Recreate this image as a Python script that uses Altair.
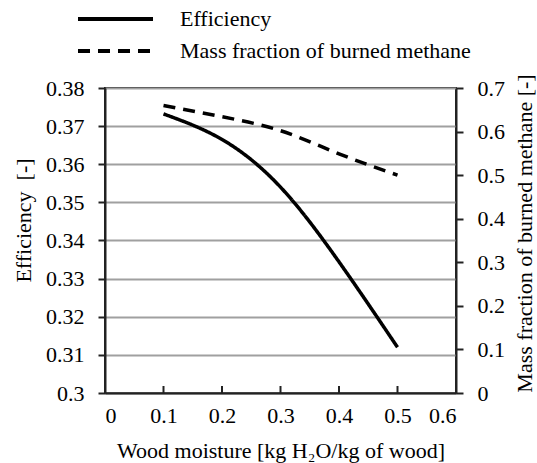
import altair as alt
import pandas as pd

moisture = [0.1, 0.2, 0.3, 0.4, 0.5]
efficiency = [0.3732, 0.3665, 0.3540, 0.3344, 0.3120]
methane = [0.660, 0.634, 0.602, 0.549, 0.500]
x_ticks = [0, 0.1, 0.2, 0.3, 0.4, 0.5, 0.6]
left_ticks = [0.30, 0.31, 0.32, 0.33, 0.34, 0.35, 0.36, 0.37, 0.38]
right_ticks = [0, 0.1, 0.2, 0.3, 0.4, 0.5, 0.6, 0.7]
series = ["Efficiency", "Mass fraction of burned methane"]

FONT = "Liberation Serif, Times New Roman, serif"
W, H = 351, 305

df_eff = pd.DataFrame({"x": moisture, "y": efficiency, "series": series[0]})
df_met = pd.DataFrame({"x": moisture, "y": methane, "series": series[1]})
df_ticks = pd.DataFrame({"x": x_ticks})

xscale = alt.Scale(domain=[0, 0.6], nice=False)
xaxis = alt.Axis(values=x_ticks, format=".1~f", tickSize=0, labelPadding=12,
                 title="Wood moisture [kg H\u2082O/kg of wood]", titlePadding=14,
                 grid=False, domainColor="#222", domainWidth=2,
                 labelFont=FONT, labelFontSize=22, titleFont=FONT, titleFontSize=22,
                 labelColor="black", titleColor="black", titleFontWeight="normal")

dash = alt.StrokeDash("series:N",
                      scale=alt.Scale(domain=series, range=[[1, 0], [12, 8]]),
                      legend=alt.Legend(title=None, orient="none", legendX=-0.5, legendY=-80,
                                        symbolType="M-5,0H5", symbolSize=225, symbolStrokeWidth=4,
                                        symbolStrokeColor="black", labelFont=FONT, labelFontSize=22,
                                        labelColor="black", labelOffset=53.5, labelLimit=500,
                                        rowPadding=10))

eff = alt.Chart(df_eff).mark_line(color="black", strokeWidth=3.5, interpolate="natural").encode(
    x=alt.X("x:Q", scale=xscale, axis=xaxis),
    y=alt.Y("y:Q", scale=alt.Scale(domain=[0.3, 0.38], nice=False, zero=False),
            axis=alt.Axis(values=left_ticks, format=".2~f", tickSize=7, tickColor="#222", tickWidth=2,
                          labelPadding=14, title="Efficiency\u00a0\u00a0[-]", titlePadding=10,
                          titleY=132,
                          grid=True, gridColor="#a0a0a0", gridWidth=2,
                          domainColor="#222", domainWidth=2,
                          labelFont=FONT, labelFontSize=22, titleFont=FONT, titleFontSize=22,
                          labelColor="black", titleColor="black", titleFontWeight="normal")),
    strokeDash=dash,
)

met = alt.Chart(df_met).mark_line(color="black", strokeWidth=3.5, interpolate="natural").encode(
    x=alt.X("x:Q", scale=xscale),
    y=alt.Y("y:Q", scale=alt.Scale(domain=[0, 0.7], nice=False),
            axis=alt.Axis(orient="right", values=right_ticks, format=".1~f", tickSize=7,
                          tickColor="#222", tickWidth=2, labelPadding=14,
                          title="Mass fraction of burned methane [-]",
                          titleAngle=270, titleX=68, titleY=145, titleBaseline="middle",
                          titleAlign="center",
                          grid=False, domainColor="#222", domainWidth=2,
                          labelFont=FONT, labelFontSize=22, titleFont=FONT, titleFontSize=22,
                          labelColor="black", titleColor="black", titleFontWeight="normal")),
    strokeDash=dash,
)

ticks = alt.Chart(df_ticks).mark_rule(color="#222", strokeWidth=2).encode(
    x=alt.X("x:Q", scale=xscale),
    y=alt.value(H - 7),
    y2=alt.value(H),
)

chart = alt.layer(eff, met, ticks).resolve_scale(y="independent").properties(
    width=W, height=H,
    padding={"left": 105, "top": 88, "right": 81, "bottom": 70},
    autosize=alt.AutoSizeParams(type="none"),
).configure_view(stroke="#222", strokeWidth=2)

chart.save("out.html", embed_options={"renderer": "svg", "actions": False})
